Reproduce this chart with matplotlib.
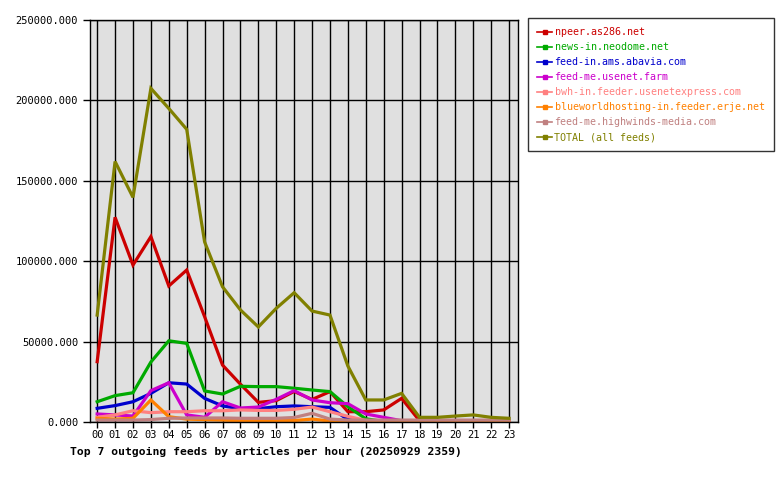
import matplotlib
matplotlib.use("Agg")
import matplotlib.pyplot as plt
from matplotlib.lines import Line2D
from matplotlib.ticker import FuncFormatter

hours = ["%02d" % h for h in range(24)]

feed_names = [
    "npeer.as286.net",
    "news-in.neodome.net",
    "feed-in.ams.abavia.com",
    "feed-me.usenet.farm",
    "bwh-in.feeder.usenetexpress.com",
    "blueworldhosting-in.feeder.erje.net",
    "feed-me.highwinds-media.com",
    "TOTAL (all feeds)",
]
feed_colors = ["#cc0000", "#00aa00", "#0000cc", "#cc00cc",
               "#ff8080", "#ff8000", "#c08080", "#808000"]

npeer = [37500, 127300, 97600, 115300, 84600, 94500, 65500, 35400, 23500, 12200,
         13300, 19000, 14000, 18900, 6400, 6400, 7500, 14700, 800, 300,
         300, 300, 300, 300]
neodome = [12600, 16400, 18200, 37300, 50500, 48900, 19300, 17400, 22200, 22000,
           22000, 21000, 19900, 18900, 9500, 2000, 300, 200, 100, 100,
           100, 100, 100, 100]
abavia = [8500, 10200, 12600, 17800, 24400, 23600, 14700, 10000, 8300, 8300,
          9500, 10000, 9500, 9100, 1500, 300, 200, 100, 100, 100,
          100, 100, 100, 100]
usenetfarm = [5000, 4400, 3700, 19500, 24400, 4400, 2900, 12600, 8700, 9300,
              14100, 19500, 13700, 12000, 11400, 5000, 2900, 800, 200, 100,
              100, 100, 100, 100]
usenetexpress = [2900, 4400, 7000, 5800, 6400, 6400, 7000, 7000, 7500, 7200,
                 7200, 7900, 9300, 6400, 3500, 1000, 300, 200, 100, 100,
                 100, 100, 100, 100]
erje = [2300, 1800, 2300, 13700, 3300, 1800, 1500, 1200, 800, 800,
        800, 900, 1800, 600, 300, 200, 100, 100, 100, 100,
        100, 100, 100, 100]
highwinds = [1200, 1200, 1200, 1500, 2300, 2500, 2500, 2500, 2300, 2300,
             2300, 2800, 5400, 1800, 1200, 1200, 1200, 1200, 1200, 1200,
             1200, 1200, 1200, 1200]
total = [66500, 162000, 139700, 207500, 195000, 182000, 112000, 84100, 69700, 59100,
         70700, 80400, 69000, 66500, 34800, 13700, 13700, 17800, 2900, 2900,
         3700, 4400, 2900, 2300]

series = [npeer, neodome, abavia, usenetfarm, usenetexpress, erje, highwinds, total]

plt.rcParams['font.family'] = ['DejaVu Sans Mono']

fig = plt.figure(figsize=(7.8, 4.8), dpi=100)
ax = fig.add_axes([90 / 780, 58 / 480, 428 / 780, 402 / 480])
ax.set_facecolor("#e0e0e0")

x = list(range(24))
for vals, col in zip(series, feed_colors):
    ax.plot(x, vals, color=col, linewidth=2.3, solid_joinstyle="miter")

ax.set_xlim(-0.4, 23.5)
ax.set_ylim(0, 250000)
ax.set_xticks(x)
ax.set_xticklabels(hours, fontsize=7.5)
ax.set_yticks(range(0, 250001, 50000))
ax.yaxis.set_major_formatter(FuncFormatter(lambda v, p: "%.3f" % v))
ax.tick_params(axis="y", labelsize=7.5, direction="out", length=5, width=1)
ax.tick_params(axis="x", direction="out", length=4, width=1, pad=2)
ax.grid(True, color="black", linewidth=1)
ax.set_axisbelow(True)
for s in ax.spines.values():
    s.set_color("black")
    s.set_linewidth(1)

fig.text(70 / 780, 1 - 452 / 480, "Top 7 outgoing feeds by articles per hour (20250929 2359)",
         fontsize=8.2, fontweight="bold", va="center", ha="left")

handles = [Line2D([0], [0], color=c, linewidth=1.2, marker="s", markersize=2.5)
           for c in feed_colors]
leg = fig.legend(handles, feed_names, loc="upper left",
                 bbox_to_anchor=(528 / 780, 1 - 18 / 480), borderaxespad=0,
                 fontsize=7.2, frameon=True, fancybox=False, handlelength=1.5,
                 handletextpad=0.25, labelspacing=0.5, borderpad=0.9)
leg.get_frame().set_edgecolor("black")
leg.get_frame().set_linewidth(1)
for t, c in zip(leg.get_texts(), feed_colors):
    t.set_color(c)

fig.savefig("out.png", dpi=100)
